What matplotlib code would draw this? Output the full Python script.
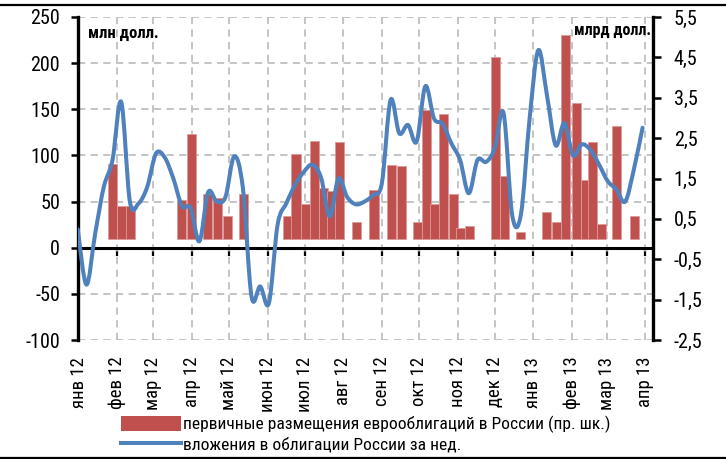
import numpy as np
import pandas as pd
import matplotlib
matplotlib.use('Agg')
import matplotlib.pyplot as plt
import matplotlib.dates as mdates
import matplotlib.font_manager as fm
from matplotlib.path import Path
from matplotlib.patches import PathPatch, Patch
from matplotlib.lines import Line2D

# ---------------------------------------------- Data
# weekly flows into Russian bonds, mln USD (left scale), first week ending 2011-12-31
line_start = '2011-12-31'
line_values = [20, -40, 15, 66, 95, 158, 50, 48, 66, 102, 98, 75, 45, 43, 7,
               60, 50, 55, 99, 65, -53, -42, -60, 25, 48, 68, 82, 90, 76, 34,
               75, 55, 47, 50, 57, 70, 160, 124, 133, 115, 175, 140, 134, 113,
               95, 59, 95, 93, 108, 146, 35, 36, 140, 214, 165, 111, 135, 100,
               112, 106, 90, 72, 63, 50, 85, 130]

# eurobond placements, bln USD (right scale)
bar_dates = ['2012-01-24', '2012-02-01', '2012-02-08', '2012-03-20', '2012-03-28',
             '2012-04-10', '2012-04-18', '2012-04-26', '2012-05-09', '2012-06-13',
             '2012-06-20', '2012-06-28', '2012-07-05', '2012-07-12', '2012-07-19',
             '2012-07-25', '2012-08-08', '2012-08-22', '2012-09-05', '2012-09-13',
             '2012-09-26', '2012-10-03', '2012-10-10', '2012-10-17', '2012-10-25',
             '2012-10-31', '2012-11-07', '2012-11-28', '2012-12-05', '2012-12-18',
             '2013-01-08', '2013-01-16', '2013-01-23', '2013-02-01', '2013-02-08',
             '2013-02-14', '2013-02-21', '2013-03-05', '2013-03-20']
bar_values = [1.85, 0.81, 0.81, 0.96, 2.59, 1.11, 1.01, 0.57, 1.11, 0.57,
              2.10, 0.86, 2.44, 1.26, 1.19, 2.40, 0.42, 1.21, 1.83, 1.80,
              0.42, 3.19, 0.86, 3.09, 1.11, 0.27, 0.32, 4.52, 1.56, 0.17,
              0.67, 0.42, 5.06, 3.38, 1.46, 2.40, 0.37, 2.79, 0.57]

month_labels = ['янв 12', 'фев 12', 'мар 12', 'апр 12', 'май 12', 'июн 12',
                'июл 12', 'авг 12', 'сен 12', 'окт 12', 'ноя 12', 'дек 12',
                'янв 13', 'фев 13', 'мар 13', 'апр 13']
left_ticks = [250, 200, 150, 100, 50, 0, -50, -100]
right_ticks = [5.5, 4.5, 3.5, 2.5, 1.5, 0.5, -0.5, -1.5, -2.5]

legend_labels = ['первичные размещения еврооблигаций в России (пр. шк.)',
                 'вложения в облигации России за нед.']

# ---------------------------------------------- Style
RED = '#C0504D'
BLUE = '#4F81BD'
GRID = '#BFBFBF'


def pick_font():
    # the original uses a condensed face; take the narrowest one installed
    ttf = fm.fontManager.ttflist
    names = {f.name for f in ttf}
    for want in ['Liberation Sans Narrow', 'Roboto Condensed',
                 'Open Sans Condensed', 'DejaVu Sans Condensed']:
        if want in names:
            return want, 'normal', 1.0
    if any(f.name == 'DejaVu Sans' and 'condensed' in str(f.stretch) for f in ttf):
        return 'DejaVu Sans', 'condensed', 0.95
    return 'Roboto', 'normal', 0.93


FONT, STRETCH, SCALE = pick_font()
plt.rcParams['font.family'] = [FONT, 'DejaVu Sans']
plt.rcParams['font.stretch'] = STRETCH
FS_TICK = 14.5 * SCALE
FS_X = 13.5 * SCALE
FS_LEG = 12.6 * SCALE
FS_UNIT = 12 * SCALE

# ---------------------------------------------- Figure
fig = plt.figure(figsize=(7.26, 4.59), dpi=100)
ax = fig.add_axes([78 / 726, 1 - 340 / 459, 575 / 726, 323 / 459])
axb = ax.twinx()
axl = ax.twinx()

months = pd.date_range('2012-01-01', periods=len(month_labels), freq='MS')
month_num = mdates.date2num(months)
x0 = month_num[0]
xlim = (x0 - 0.8, x0 + 462.4)

# grid + left scale
ax.set_xlim(xlim)
ax.set_ylim(-100, 250)
ax.set_yticks(left_ticks)
ax.set_yticklabels([str(t) for t in left_ticks], fontsize=FS_TICK)
ax.set_xticks(month_num)
ax.set_xticklabels(month_labels, rotation=90, fontsize=FS_X)
ax.tick_params(axis='x', length=0, pad=12)
ax.tick_params(axis='y', direction='out', length=5, width=1.8, pad=8)
ax.grid(True, color=GRID, linestyle=(0, (4, 3)), linewidth=1.3)
for s in ['top', 'bottom', 'right']:
    ax.spines[s].set_visible(False)
ax.spines['left'].set_linewidth(2.4)

# zero line with month ticks
ax.axhline(0, color='black', linewidth=2.2, zorder=3)
sec = ax.secondary_xaxis(100 / 350)
sec.set_xticks(month_num)
sec.set_xticklabels([])
sec.tick_params(direction='out', length=6, width=1.6, color='black')
sec.spines['bottom'].set_visible(False)

# bars on right scale
bd = mdates.date2num(pd.to_datetime(bar_dates))
axb.bar(bd, bar_values, width=7.5, align='edge', color=RED,
        edgecolor='#DA9C9A', linewidth=0.6)
axb.set_xlim(xlim)
axb.set_ylim(-2.5, 5.5)
axb.set_yticks(right_ticks)
axb.set_yticklabels([f'{t:.1f}'.replace('.', ',') for t in right_ticks],
                    fontsize=FS_TICK)
axb.tick_params(axis='y', direction='out', length=6, width=1.8, pad=9)
for s in ['top', 'bottom', 'left']:
    axb.spines[s].set_visible(False)
axb.spines['right'].set_linewidth(2.4)

# smoothed line (Excel-like bezier) on left scale
ld = mdates.date2num(pd.date_range(line_start, periods=len(line_values), freq='7D'))
pts = np.column_stack([ld, line_values]).astype(float)
ext = np.vstack([pts[0], pts, pts[-1]])
verts = [pts[0]]
codes = [Path.MOVETO]
for i in range(len(pts) - 1):
    p0, p1, p2, p3 = ext[i], ext[i + 1], ext[i + 2], ext[i + 3]
    verts += [p1 + (p2 - p0) / 6, p2 - (p3 - p1) / 6, p2]
    codes += [Path.CURVE4] * 3
axl.add_patch(PathPatch(Path(verts, codes), facecolor='none', edgecolor=BLUE,
                        linewidth=2.9, capstyle='round', joinstyle='round'))
axl.set_xlim(xlim)
axl.set_ylim(-100, 250)
axl.set_yticks([])
for s in axl.spines.values():
    s.set_visible(False)

# unit captions
ax.text(0.017, 0.95, 'млн долл.', transform=ax.transAxes, fontsize=FS_UNIT,
        fontweight='bold', va='center', ha='left')
axl.text(0.997, 0.957, 'млрд долл.', transform=ax.transAxes, fontsize=FS_UNIT - 0.5,
         fontweight='bold', va='center', ha='right')

# legend
handles = [Patch(facecolor=RED, edgecolor='none'),
           Line2D([], [], color=BLUE, linewidth=2.9)]
fig.legend(handles, legend_labels, loc='upper left',
           bbox_to_anchor=(121 / 726, 1 - 416 / 459), frameon=False,
           fontsize=FS_LEG, handlelength=3.4, handleheight=0.95,
           handletextpad=0.12, labelspacing=0.15, borderaxespad=0, borderpad=0)

# frame lines
fig.add_artist(Line2D([0, 1], [1 - 4.5 / 459] * 2, color='black', linewidth=1.6))
fig.add_artist(Line2D([0, 1], [1 - 457.5 / 459] * 2, color='black', linewidth=1.6))

fig.savefig('out.png', dpi=100)
